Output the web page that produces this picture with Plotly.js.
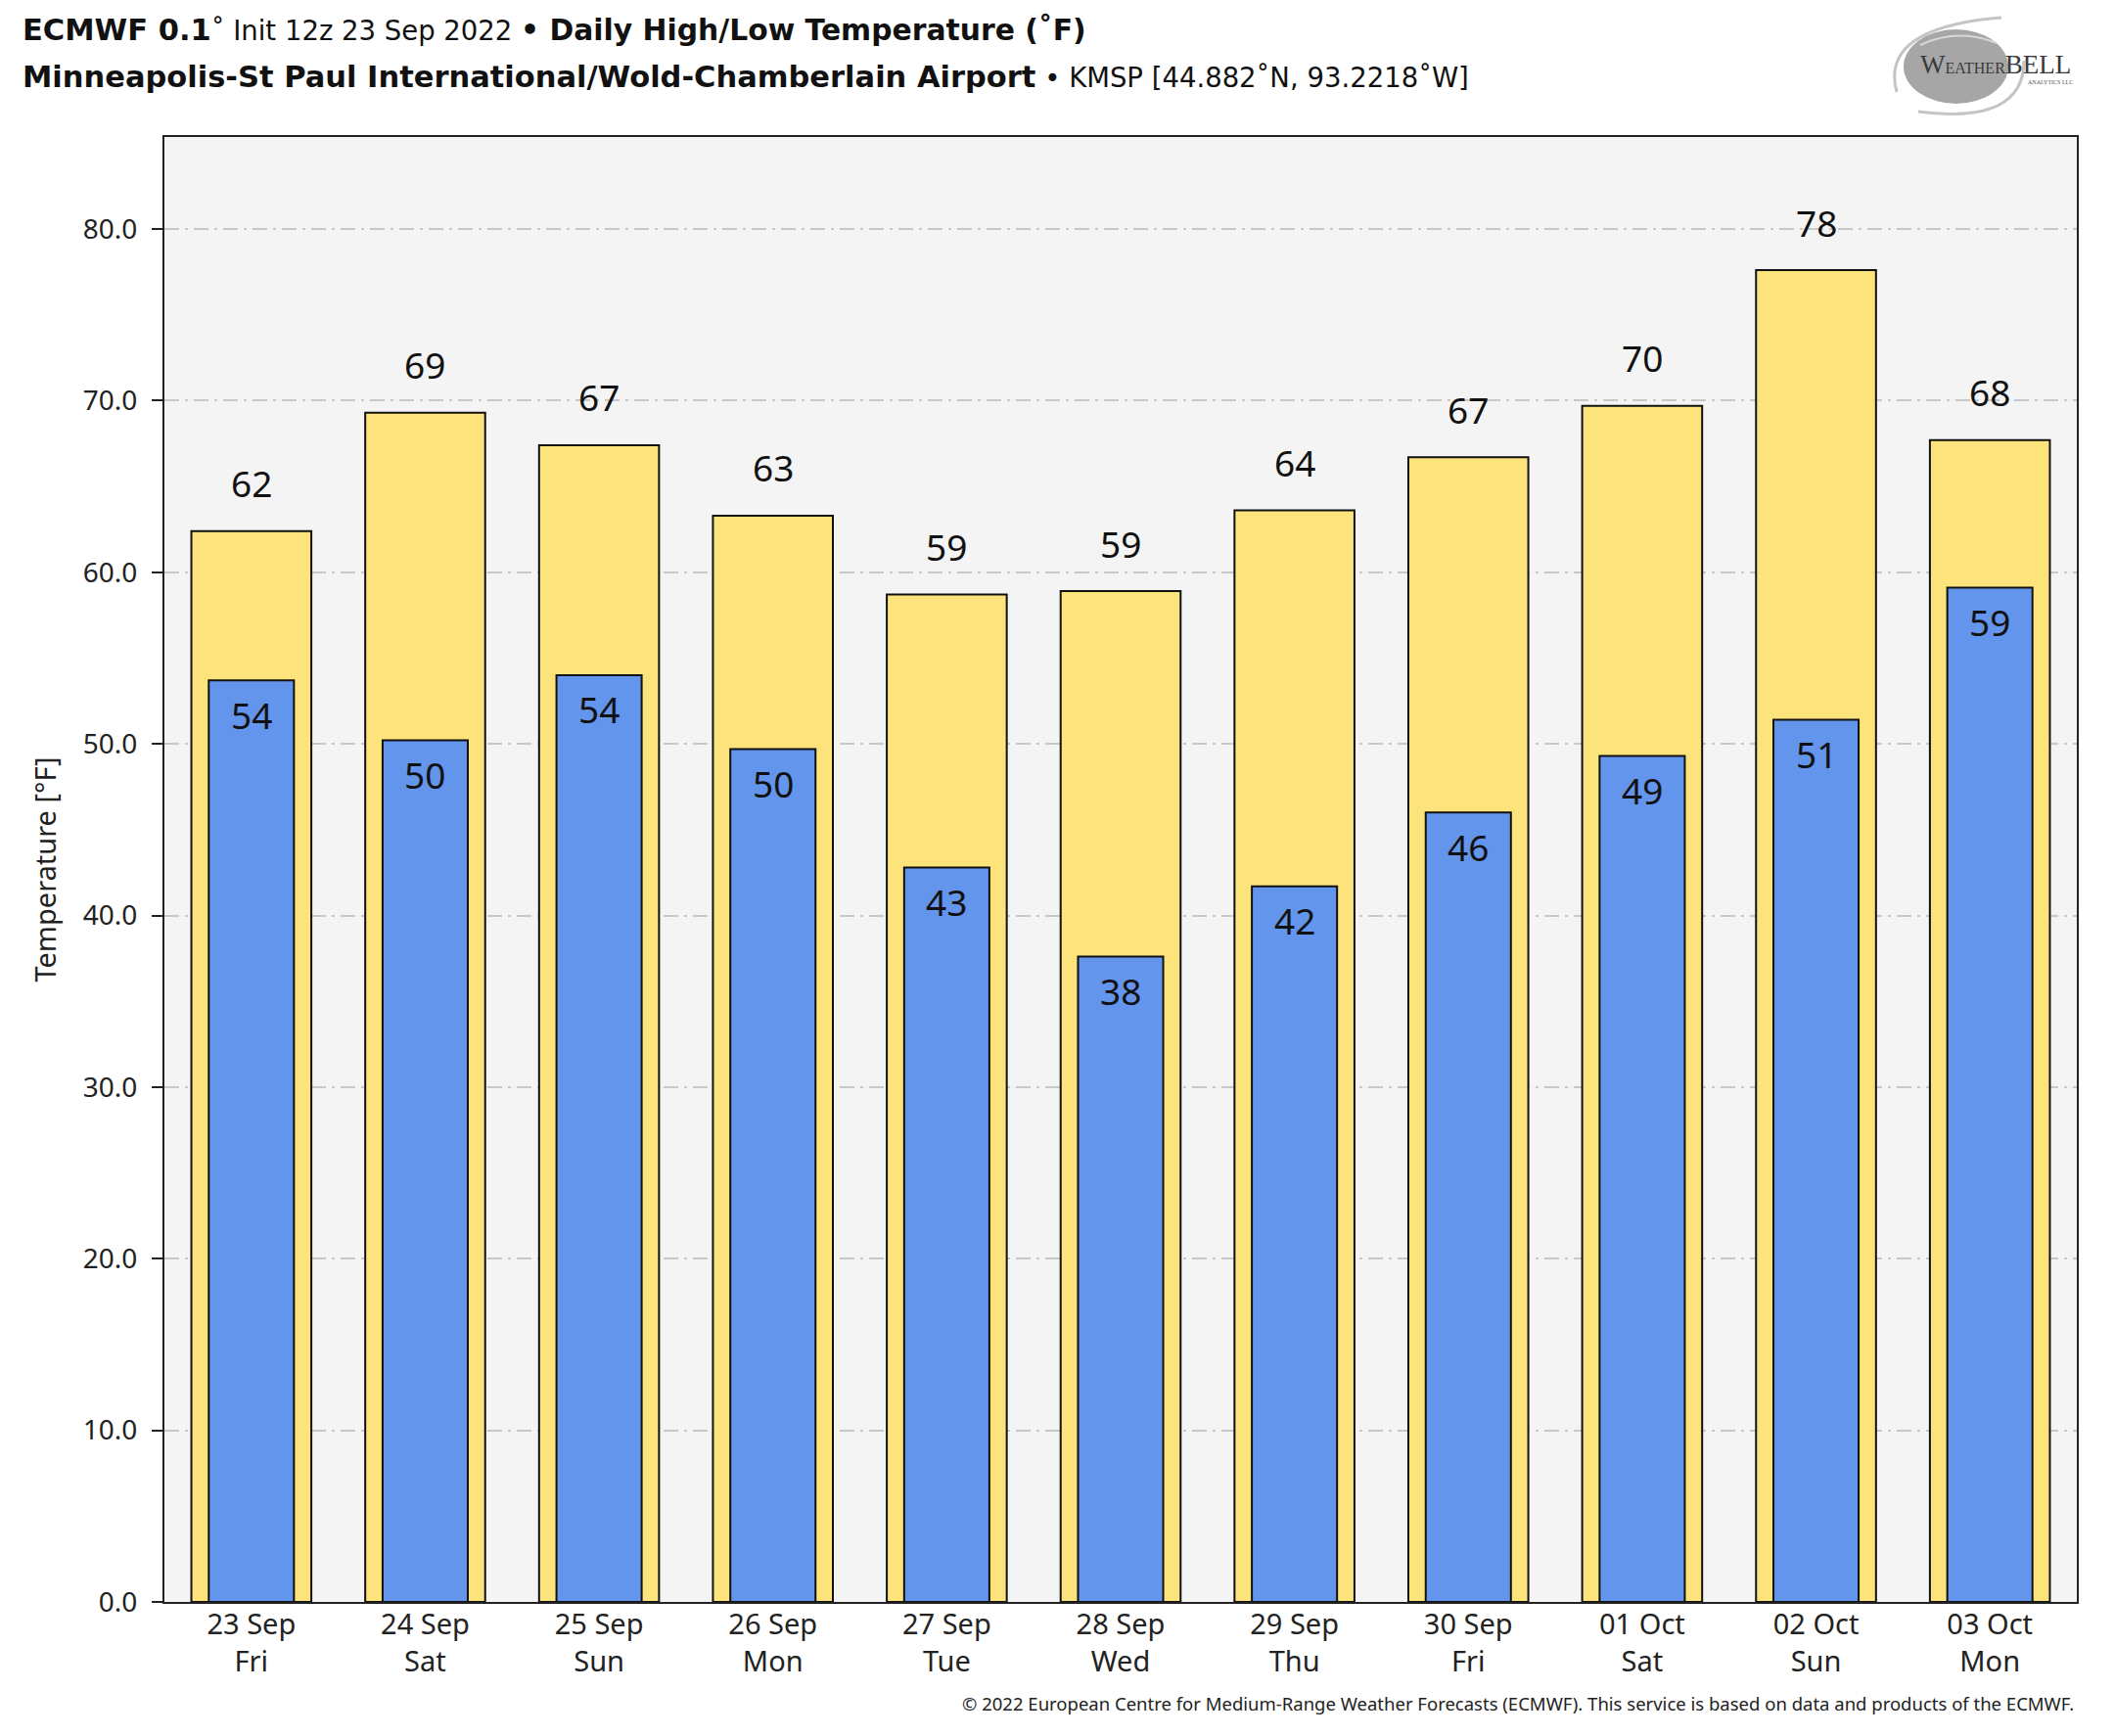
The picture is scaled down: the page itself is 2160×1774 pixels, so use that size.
<!DOCTYPE html>
<html>
<head>
<meta charset="utf-8">
<script src="https://cdn.plot.ly/plotly-3.0.1.min.js"></script>
<style>
  html, body { margin: 0; padding: 0; background: #ffffff; }
  #chart { width: 2160px; height: 1774px; }
</style>
</head>
<body>
<div id="chart"></div>
<script>
// ---- data ----
const dates    = ['23 Sep','24 Sep','25 Sep','26 Sep','27 Sep','28 Sep','29 Sep','30 Sep','01 Oct','02 Oct','03 Oct'];
const weekdays = ['Fri','Sat','Sun','Mon','Tue','Wed','Thu','Fri','Sat','Sun','Mon'];
const highs    = [62.4, 69.3, 67.4, 63.3, 58.7, 58.9, 63.6, 66.7, 69.7, 77.6, 67.7];
const lows     = [53.7, 50.2, 54.0, 49.7, 42.8, 37.6, 41.7, 46.0, 49.3, 51.4, 59.1];
const yTicks   = [0, 10, 20, 30, 40, 50, 60, 70, 80];

// ---- geometry helpers for decorations (pixel -> paper) ----
const W = 2160, H = 1774;
const M = {l: 168, r: 38, t: 140, b: 137};
const PW = W - M.l - M.r, PH = H - M.t - M.b;
const px = x => (x - M.l) / PW;
const py = y => (H - M.b - y) / PH;

const tickText = dates.map((d, i) => d + '<br>' + weekdays[i]);

const highTrace = {
  type: 'bar', x: dates, y: highs, width: 0.69,
  marker: {color: '#fde37b', line: {color: '#111111', width: 2}},
  hoverinfo: 'skip'
};
const lowTrace = {
  type: 'bar', x: dates, y: lows, width: 0.49,
  marker: {color: '#6495ed', line: {color: '#111111', width: 2}},
  hoverinfo: 'skip'
};

const labelFont = {family: 'Noto Sans', size: 37, color: '#111111'};
const annotations = [];
dates.forEach((d, i) => {
  annotations.push({x: d, y: highs[i], xref: 'x', yref: 'y', text: String(Math.round(highs[i])),
    showarrow: false, yanchor: 'middle', xanchor: 'center', yshift: 49, font: labelFont});
  annotations.push({x: d, y: lows[i], xref: 'x', yref: 'y', text: String(Math.round(lows[i])),
    showarrow: false, yanchor: 'middle', xanchor: 'center', yshift: -35, font: labelFont});
});

// titles
const titleFont = {family: 'DejaVu Sans', size: 27.5, color: '#111111'};
const B = (s, sz) => '<b><span style="font-size:' + sz + 'px">' + s + '</span></b>';
annotations.push({
  xref: 'paper', yref: 'paper', x: px(21), y: py(31), xanchor: 'left', yanchor: 'middle', showarrow: false,
  text: B('ECMWF 0.1', 30.5) + '˚ Init 12z 23 Sep 2022 ' + B('• Daily High/Low Temperature (˚F)', 29.8),
  font: titleFont
});
annotations.push({
  xref: 'paper', yref: 'paper', x: px(21), y: py(78), xanchor: 'left', yanchor: 'middle', showarrow: false,
  text: B('Minneapolis-St Paul International/Wold-Chamberlain Airport', 30.5) + ' • KMSP [44.882˚N, 93.2218˚W]',
  font: titleFont
});
// footer
annotations.push({
  xref: 'paper', yref: 'paper', x: px(2121), y: py(1741), xanchor: 'right', yanchor: 'middle', showarrow: false,
  text: '© 2022 European Centre for Medium-Range Weather Forecasts (ECMWF). This service is based on data and products of the ECMWF.',
  font: {family: 'Noto Sans', size: 18.5, color: '#222222'}
});
// logo text
annotations.push({
  xref: 'paper', yref: 'paper', x: px(1960), y: py(66), xanchor: 'left', yanchor: 'middle', showarrow: false,
  text: '<span style="font-size:27px">W</span>EATHER<span style="font-size:27px">BELL</span>',
  font: {family: 'Liberation Serif', size: 16, color: '#3a3a3a'}
});
annotations.push({
  xref: 'paper', yref: 'paper', x: px(2120), y: py(84), xanchor: 'right', yanchor: 'middle', showarrow: false,
  text: 'ANALYTICS LLC',
  font: {family: 'Liberation Serif', size: 6, color: '#555555'}
});

const shapes = [
  {type: 'circle', xref: 'paper', yref: 'paper', x0: px(1945), x1: px(2052), y0: py(106), y1: py(30),
   fillcolor: '#a6a6a6', line: {width: 0}, layer: 'below'},
  {type: 'path', xref: 'paper', yref: 'paper', layer: 'below',
   path: `M ${px(1938)},${py(94)} Q ${px(1920)},${py(28)} ${px(2045)},${py(18)}`,
   line: {color: '#c4c4c4', width: 3}},
  {type: 'path', xref: 'paper', yref: 'paper', layer: 'below',
   path: `M ${px(1960)},${py(114)} Q ${px(2068)},${py(128)} ${px(2068)},${py(62)}`,
   line: {color: '#c4c4c4', width: 3}},
  {type: 'path', xref: 'paper', yref: 'paper', layer: 'below',
   path: `M ${px(1962)},${py(46)} Q ${px(2000)},${py(28)} ${px(2040)},${py(44)}`,
   line: {color: '#d8d8d8', width: 2}}
];

const layout = {
  width: W, height: H,
  margin: {l: M.l, r: M.r, t: M.t, b: M.b, pad: 0},
  paper_bgcolor: '#ffffff',
  plot_bgcolor: '#f4f4f4',
  barmode: 'overlay',
  showlegend: false,
  font: {family: 'Noto Sans', color: '#222222'},
  xaxis: {
    type: 'category', tickmode: 'array', tickvals: dates, ticktext: tickText,
    range: [-0.5, dates.length - 0.5],
    tickfont: {family: 'Noto Sans', size: 29, color: '#222222'},
    ticks: '', ticklabelstandoff: -4, showgrid: false, zeroline: false,
    showline: true, mirror: true, linecolor: '#222222', linewidth: 2
  },
  yaxis: {
    range: [0, 85.36], tickmode: 'array', tickvals: yTicks, tickformat: '.1f',
    ticks: 'outside', ticklen: 11, tickwidth: 2, tickcolor: '#222222', ticklabelstandoff: 9,
    tickfont: {family: 'Noto Sans', size: 28, color: '#222222'},
    showgrid: true, gridcolor: '#c8c8c8', gridwidth: 2, griddash: '15px,6px,3px,6px',
    zeroline: false, showline: true, mirror: true, linecolor: '#222222', linewidth: 2,
    automargin: true,
    title: {text: 'Temperature [°F]', font: {family: 'Noto Sans', size: 29, color: '#222222'}, standoff: 19}
  },
  annotations: annotations,
  shapes: shapes
};

Plotly.newPlot('chart', [highTrace, lowTrace], layout, {staticPlot: true, displayModeBar: false});
</script>
</body>
</html>
